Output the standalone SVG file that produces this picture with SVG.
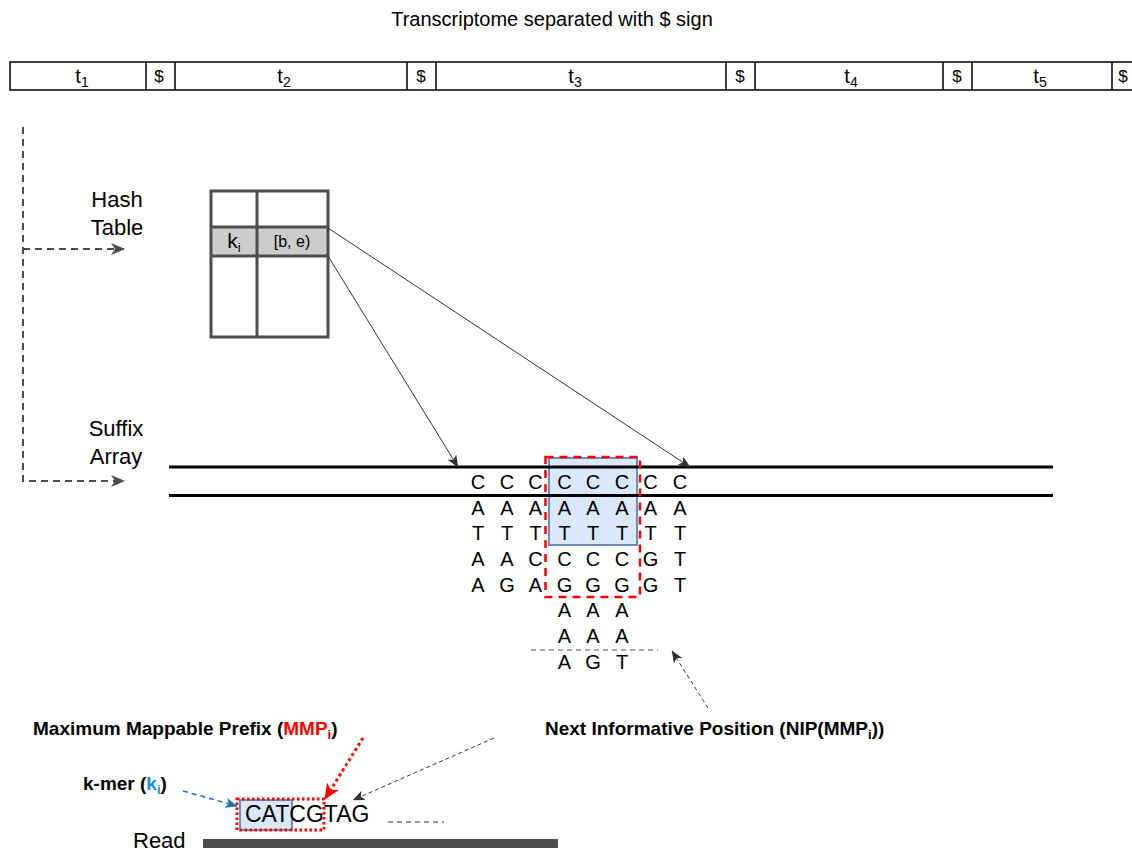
<svg xmlns="http://www.w3.org/2000/svg" width="1132" height="852" viewBox="0 0 1132 852">
  <style>
    text { font-family: "Liberation Sans", Arial, Helvetica, sans-serif; fill: #000; }
    .title { font-size: 20px; }
    .cell { font-size: 20px; }
    .dollar { font-size: 17px; }
    .label { font-size: 22px; text-anchor: middle; }
    .base { font-size: 20px; text-anchor: middle; }
    .bold { font-size: 19px; font-weight: bold; }
    .bar { stroke: #000; stroke-width: 1.5; fill: none; }
    .grid { stroke: #4d4d4d; stroke-width: 3; }
    .sa { stroke: #000; stroke-width: 3; }
    .flow { stroke: #4d4d4d; stroke-width: 2; stroke-dasharray: 7 5; fill: none; }
    .thin { stroke: #333; stroke-width: 1; fill: none; }
    .hint { stroke: #333; stroke-width: 1; stroke-dasharray: 4 3; fill: none; }
  </style>
  <defs>
    <marker id="headFlow" viewBox="0 0 14 12" refX="13" refY="6" markerWidth="14" markerHeight="12" markerUnits="userSpaceOnUse" orient="auto">
      <path d="M0,0 L14,6 L0,12 L4,6 z" fill="#4d4d4d"/>
    </marker>
    <marker id="headThin" viewBox="0 0 12 10" refX="11.5" refY="5" markerWidth="12" markerHeight="10" markerUnits="userSpaceOnUse" orient="auto">
      <path d="M0,0 L12,5 L0,10 L3,5 z" fill="#333"/>
    </marker>
    <marker id="headRed" viewBox="0 0 16 14" refX="15" refY="7" markerWidth="16" markerHeight="14" markerUnits="userSpaceOnUse" orient="auto">
      <path d="M0,0 L16,7 L0,14 L4,7 z" fill="#ff0000"/>
    </marker>
    <marker id="headBlue" viewBox="0 0 12 10" refX="11.5" refY="5" markerWidth="12" markerHeight="10" markerUnits="userSpaceOnUse" orient="auto">
      <path d="M0,0 L12,5 L0,10 L3,5 z" fill="#1f6fb2"/>
    </marker>
  </defs>

  <rect width="1132" height="852" fill="#fff"/>

  <!-- transcriptome bar -->
  <g id="transcriptome">
    <text class="title" x="552" y="26" text-anchor="middle">Transcriptome separated with $ sign</text>
    <path class="bar" d="M1132,62 H10 V90 H1132"/>
    <path class="bar" d="M146,62 V90 M175,62 V90 M407,62 V90 M436,62 V90 M726,62 V90 M755,62 V90 M943,62 V90 M972,62 V90 M1112,62 V90"/>
    <text class="cell" x="82" y="83" text-anchor="middle">t<tspan font-size="14" dy="4">1</tspan></text>
    <text class="dollar" x="159" y="82" text-anchor="middle">$</text>
    <text class="cell" x="284" y="83" text-anchor="middle">t<tspan font-size="14" dy="4">2</tspan></text>
    <text class="dollar" x="421" y="82" text-anchor="middle">$</text>
    <text class="cell" x="575" y="83" text-anchor="middle">t<tspan font-size="14" dy="4">3</tspan></text>
    <text class="dollar" x="740" y="82" text-anchor="middle">$</text>
    <text class="cell" x="851" y="83" text-anchor="middle">t<tspan font-size="14" dy="4">4</tspan></text>
    <text class="dollar" x="957" y="82" text-anchor="middle">$</text>
    <text class="cell" x="1040" y="83" text-anchor="middle">t<tspan font-size="14" dy="4">5</tspan></text>
    <text class="dollar" x="1123" y="82" text-anchor="middle">$</text>
  </g>

  <!-- hash table -->
  <g id="hash-table">
    <text class="label" x="117" y="207">Hash</text>
    <text class="label" x="117" y="235">Table</text>
    <rect x="211" y="227" width="117" height="29" fill="#cccccc"/>
    <rect class="grid" x="211" y="191" width="117" height="146" fill="none"/>
    <path class="grid" d="M257,191 V337 M211,227 H328 M211,256 H328"/>
    <text x="234" y="248" font-size="21" text-anchor="middle">k<tspan font-size="13" dy="4">i</tspan></text>
    <text x="292" y="247" font-size="16" text-anchor="middle">[b, e)</text>
  </g>

  <!-- suffix array -->
  <g id="suffix-array">
    <text class="label" x="116" y="436">Suffix</text>
    <text class="label" x="116" y="464">Array</text>
    <rect x="549" y="458" width="88" height="87" fill="#dae8fc" stroke="#6c8ebf" stroke-width="2"/>
    <path class="sa" d="M169,467 H1053 M169,495.5 H1053"/>
    <g class="base">
      <text x="478" y="488.5">C</text><text x="507" y="488.5">C</text><text x="535.5" y="488.5">C</text><text x="564.5" y="488.5">C</text><text x="593" y="488.5">C</text><text x="622" y="488.5">C</text><text x="650.5" y="488.5">C</text><text x="680" y="488.5">C</text>
      <text x="478" y="514.5">A</text><text x="507" y="514.5">A</text><text x="535.5" y="514.5">A</text><text x="564.5" y="514.5">A</text><text x="593" y="514.5">A</text><text x="622" y="514.5">A</text><text x="650.5" y="514.5">A</text><text x="680" y="514.5">A</text>
      <text x="478" y="540">T</text><text x="507" y="540">T</text><text x="535.5" y="540">T</text><text x="564.5" y="540">T</text><text x="593" y="540">T</text><text x="622" y="540">T</text><text x="650.5" y="540">T</text><text x="680" y="540">T</text>
      <text x="478" y="566">A</text><text x="507" y="566">A</text><text x="535.5" y="566">C</text><text x="564.5" y="566">C</text><text x="593" y="566">C</text><text x="622" y="566">C</text><text x="650.5" y="566">G</text><text x="680" y="566">T</text>
      <text x="478" y="591.5">A</text><text x="507" y="591.5">G</text><text x="535.5" y="591.5">A</text><text x="564.5" y="591.5">G</text><text x="593" y="591.5">G</text><text x="622" y="591.5">G</text><text x="650.5" y="591.5">G</text><text x="680" y="591.5">T</text>
      <text x="564.5" y="617">A</text><text x="593" y="617">A</text><text x="622" y="617">A</text>
      <text x="564.5" y="643">A</text><text x="593" y="643">A</text><text x="622" y="643">A</text>
      <text x="564.5" y="669">A</text><text x="593" y="669">G</text><text x="622" y="669">T</text>
    </g>
    <rect x="545.5" y="457" width="94.5" height="140" fill="none" stroke="#ff0000" stroke-width="2.5" stroke-dasharray="8 6"/>
    <path d="M531,650 H658" stroke="#555" stroke-width="1" stroke-dasharray="5 4"/>
  </g>

  <!-- read with k-mer and maximum mappable prefix -->
  <g id="read">
    <text x="133" y="848" font-size="22">Read</text>
    <rect x="203" y="839" width="355" height="9" fill="#4d4d4d"/>
    <rect x="240" y="800" width="52" height="30" fill="#dae8fc" stroke="#6c8ebf" stroke-width="2"/>
    <text x="245" y="822" font-size="23">CATCGTAG</text>
    <rect x="237" y="799" width="87" height="31" fill="none" stroke="#ff0000" stroke-width="3" stroke-dasharray="2.5 2.5"/>
    <path d="M388,822 H444" stroke="#333" stroke-width="1" stroke-dasharray="5 4"/>
  </g>

  <!-- annotations -->
  <g id="label-mmp">
    <text class="bold" x="33" y="735">Maximum Mappable Prefix (<tspan fill="#ff0000">MMP<tspan font-size="13" dy="4">i</tspan></tspan><tspan dy="-4">)</tspan></text>
  </g>
  <g id="label-kmer">
    <text class="bold" x="83" y="790">k-mer (<tspan fill="#1e88e5">k<tspan font-size="13" dy="4">i</tspan></tspan><tspan dy="-4">)</tspan></text>
  </g>
  <g id="label-nip">
    <text class="bold" x="545" y="735">Next Informative Position (NIP(MMP<tspan font-size="13" dy="4">i</tspan><tspan dy="-4">))</tspan></text>
  </g>

  <!-- connectors -->
  <g id="connectors">
    <path class="flow" d="M23,127 V481 H124" marker-end="url(#headFlow)"/>
    <path class="flow" d="M23,249 H124" marker-end="url(#headFlow)"/>
    <path class="thin" d="M328,228 L690,467" marker-end="url(#headThin)"/>
    <path class="thin" d="M328,256 L458,467" marker-end="url(#headThin)"/>
    <path class="hint" d="M708,708 L672,651" marker-end="url(#headThin)"/>
    <path class="hint" d="M494,738 L353,800" marker-end="url(#headThin)"/>
    <path d="M363,738 L325,799" fill="none" stroke="#ff0000" stroke-width="3" stroke-dasharray="3 3" marker-end="url(#headRed)"/>
    <path d="M183,791 L237,806" fill="none" stroke="#1f6fb2" stroke-width="1.5" stroke-dasharray="5 4" marker-end="url(#headBlue)"/>
  </g>
</svg>
